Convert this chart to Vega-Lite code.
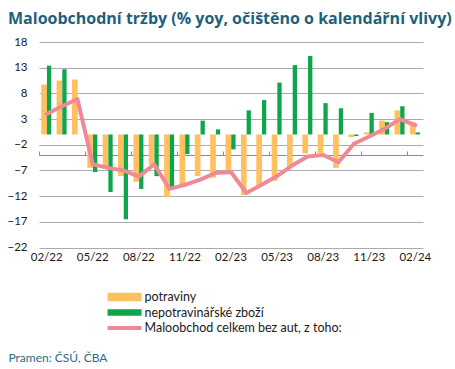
{
  "$schema": "https://vega.github.io/schema/vega-lite/v6.json",
  "width": 384,
  "height": 205.5,
  "autosize": {"type": "none"},
  "padding": {"left": 39, "top": 42, "right": 32, "bottom": 121.5},
  "background": "white",
  "title": {
    "text": "Maloobchodní tržby (% yoy, očištěno o kalendářní vlivy)",
    "anchor": "start",
    "frame": "group",
    "dx": -31,
    "offset": -4,
    "font": "Open Sans",
    "fontSize": 16,
    "fontWeight": "bold",
    "color": "#1F5F7B",
    "baseline": "alphabetic"
  },
  "config": {
    "view": {"stroke": null},
    "font": "Lato",
    "axis": {"labelFont": "Lato", "labelFontSize": 11.5, "labelColor": "#1a1a1a"}
  },
  "data": {
    "values": [
      {"m": "02/22", "s": "potraviny", "v": 9.7},
      {"m": "03/22", "s": "potraviny", "v": 10.5},
      {"m": "04/22", "s": "potraviny", "v": 10.7},
      {"m": "05/22", "s": "potraviny", "v": -6.5},
      {"m": "06/22", "s": "potraviny", "v": -6.7},
      {"m": "07/22", "s": "potraviny", "v": -8.1},
      {"m": "08/22", "s": "potraviny", "v": -9.2},
      {"m": "09/22", "s": "potraviny", "v": -5.9},
      {"m": "10/22", "s": "potraviny", "v": -12.2},
      {"m": "11/22", "s": "potraviny", "v": -9.8},
      {"m": "12/22", "s": "potraviny", "v": -8.1},
      {"m": "01/23", "s": "potraviny", "v": -8.4},
      {"m": "02/23", "s": "potraviny", "v": -7.0},
      {"m": "03/23", "s": "potraviny", "v": -11.8},
      {"m": "04/23", "s": "potraviny", "v": -10.0},
      {"m": "05/23", "s": "potraviny", "v": -9.0},
      {"m": "06/23", "s": "potraviny", "v": -6.3},
      {"m": "07/23", "s": "potraviny", "v": -3.7},
      {"m": "08/23", "s": "potraviny", "v": -3.6},
      {"m": "09/23", "s": "potraviny", "v": -6.5},
      {"m": "10/23", "s": "potraviny", "v": -0.5},
      {"m": "11/23", "s": "potraviny", "v": 0.4},
      {"m": "12/23", "s": "potraviny", "v": 2.7},
      {"m": "01/24", "s": "potraviny", "v": 4.7},
      {"m": "02/24", "s": "potraviny", "v": 2.4},
      {"m": "02/22", "s": "nepotravinářské zboží", "v": 13.4},
      {"m": "03/22", "s": "nepotravinářské zboží", "v": 12.7},
      {"m": "05/22", "s": "nepotravinářské zboží", "v": -7.3},
      {"m": "06/22", "s": "nepotravinářské zboží", "v": -11.2},
      {"m": "07/22", "s": "nepotravinářské zboží", "v": -16.5},
      {"m": "08/22", "s": "nepotravinářské zboží", "v": -10.6},
      {"m": "09/22", "s": "nepotravinářské zboží", "v": -8.1},
      {"m": "10/22", "s": "nepotravinářské zboží", "v": -10.7},
      {"m": "11/22", "s": "nepotravinářské zboží", "v": -3.8},
      {"m": "12/22", "s": "nepotravinářské zboží", "v": 2.7},
      {"m": "01/23", "s": "nepotravinářské zboží", "v": 1.0},
      {"m": "02/23", "s": "nepotravinářské zboží", "v": -2.9},
      {"m": "03/23", "s": "nepotravinářské zboží", "v": 4.7},
      {"m": "04/23", "s": "nepotravinářské zboží", "v": 6.7},
      {"m": "05/23", "s": "nepotravinářské zboží", "v": 10.1},
      {"m": "06/23", "s": "nepotravinářské zboží", "v": 13.5},
      {"m": "07/23", "s": "nepotravinářské zboží", "v": 15.3},
      {"m": "08/23", "s": "nepotravinářské zboží", "v": 6.1},
      {"m": "09/23", "s": "nepotravinářské zboží", "v": 5.1},
      {"m": "10/23", "s": "nepotravinářské zboží", "v": -0.3},
      {"m": "11/23", "s": "nepotravinářské zboží", "v": 4.2},
      {"m": "12/23", "s": "nepotravinářské zboží", "v": 2.4},
      {"m": "01/24", "s": "nepotravinářské zboží", "v": 5.5},
      {"m": "02/24", "s": "nepotravinářské zboží", "v": 0.4},
      {"m": "02/22", "s": "Maloobchod celkem bez aut, z toho:", "v": 4.0},
      {"m": "03/22", "s": "Maloobchod celkem bez aut, z toho:", "v": 5.5},
      {"m": "04/22", "s": "Maloobchod celkem bez aut, z toho:", "v": 6.9},
      {"m": "05/22", "s": "Maloobchod celkem bez aut, z toho:", "v": -5.8},
      {"m": "06/22", "s": "Maloobchod celkem bez aut, z toho:", "v": -6.5},
      {"m": "07/22", "s": "Maloobchod celkem bez aut, z toho:", "v": -7.0},
      {"m": "08/22", "s": "Maloobchod celkem bez aut, z toho:", "v": -8.2},
      {"m": "09/22", "s": "Maloobchod celkem bez aut, z toho:", "v": -5.8},
      {"m": "10/22", "s": "Maloobchod celkem bez aut, z toho:", "v": -10.6},
      {"m": "11/22", "s": "Maloobchod celkem bez aut, z toho:", "v": -9.8},
      {"m": "12/22", "s": "Maloobchod celkem bez aut, z toho:", "v": -8.8},
      {"m": "01/23", "s": "Maloobchod celkem bez aut, z toho:", "v": -7.5},
      {"m": "02/23", "s": "Maloobchod celkem bez aut, z toho:", "v": -7.3},
      {"m": "03/23", "s": "Maloobchod celkem bez aut, z toho:", "v": -11.4},
      {"m": "04/23", "s": "Maloobchod celkem bez aut, z toho:", "v": -9.8},
      {"m": "05/23", "s": "Maloobchod celkem bez aut, z toho:", "v": -8.1},
      {"m": "06/23", "s": "Maloobchod celkem bez aut, z toho:", "v": -6.0},
      {"m": "07/23", "s": "Maloobchod celkem bez aut, z toho:", "v": -4.3},
      {"m": "08/23", "s": "Maloobchod celkem bez aut, z toho:", "v": -4.0},
      {"m": "09/23", "s": "Maloobchod celkem bez aut, z toho:", "v": -5.4},
      {"m": "10/23", "s": "Maloobchod celkem bez aut, z toho:", "v": -1.8},
      {"m": "11/23", "s": "Maloobchod celkem bez aut, z toho:", "v": -0.4},
      {"m": "12/23", "s": "Maloobchod celkem bez aut, z toho:", "v": 1.1},
      {"m": "01/24", "s": "Maloobchod celkem bez aut, z toho:", "v": 3.0},
      {"m": "02/24", "s": "Maloobchod celkem bez aut, z toho:", "v": 1.8}
    ]
  },
  "resolve": {"axis": {"x": "independent"}},
  "layer": [
    {
      "transform": [{"filter": "datum.s === 'potraviny'"}],
      "mark": {"type": "bar", "width": 5.7, "xOffset": -2.6},
      "encoding": {
        "x": {
          "field": "m", "type": "ordinal", "sort": null,
          "scale": {"paddingInner": 0, "paddingOuter": 0},
          "axis": {
            "title": "Pramen: ČSÚ, ČBA",
            "titleX": -31, "titleY": 114, "titleAnchor": "start", "titleAlign": "left",
            "titleBaseline": "alphabetic",
            "titleFont": "Lato", "titleFontSize": 12, "titleFontWeight": "normal", "titleColor": "#2F6A86",
            "values": ["02/22", "05/22", "08/22", "11/22", "02/23", "05/23", "08/23", "11/23", "02/24"],
            "labelAngle": 0, "domain": false, "ticks": false, "labelPadding": 4
          }
        },
        "y": {
          "field": "v", "type": "quantitative",
          "scale": {"domain": [-22, 18], "nice": false, "zero": false},
          "axis": {
            "title": null,
            "values": [-22, -17, -12, -7, -2, 3, 8, 13, 18],
            "tickCount": 20, "labelOverlap": false,
            "domain": false, "ticks": false, "labelPadding": 12,
            "gridColor": "#ABABAB", "gridWidth": 1
          }
        },
        "color": {
          "field": "s", "type": "nominal",
          "scale": {
            "domain": ["potraviny", "nepotravinářské zboží", "Maloobchod celkem bez aut, z toho:"],
            "range": ["#FFC05F", "#0FA64B", "#EF8A94"]
          },
          "legend": {
            "orient": "none", "legendX": 85.5, "legendY": 246.5, "title": null,
            "symbolType": "M-3,-0.49H1V0.49H-3Z", "symbolSize": 289,
            "symbolStrokeWidth": 0, "symbolOpacity": 1,
            "labelFont": "Lato", "labelFontSize": 12.5, "labelColor": "#1a1a1a",
            "labelLimit": 400,
            "rowPadding": 0.5, "labelOffset": 3,
            "encode": {
              "symbols": {
                "update": {
                  "shape": {"signal": "datum.value === 'potraviny' ? 'M-3,-0.49H1V0.49H-3Z' : (datum.value === 'nepotravinářské zboží' ? 'M-3,-0.39H1V0.39H-3Z' : 'M-3,-0.235H1V0.235H-3Z')"}
                }
              }
            }
          }
        }
      }
    },
    {
      "transform": [{"filter": "datum.s === 'nepotravinářské zboží'"}],
      "mark": {"type": "bar", "width": 4.3, "xOffset": 2.4},
      "encoding": {
        "x": {"field": "m", "type": "ordinal", "sort": null, "axis": null},
        "y": {"field": "v", "type": "quantitative"},
        "color": {"field": "s", "type": "nominal"}
      }
    },
    {
      "transform": [{"filter": "datum.s === 'Maloobchod celkem bez aut, z toho:'"}],
      "mark": {"type": "line", "strokeWidth": 4, "strokeJoin": "round", "strokeCap": "round"},
      "encoding": {
        "x": {
          "field": "m", "type": "ordinal", "sort": null,
          "axis": {
            "title": null, "labels": false, "offset": -113,
            "values": ["02/22", "05/22", "08/22", "11/22", "02/23", "05/23", "08/23", "11/23", "02/24"],
            "bandPosition": 0, "domain": true, "domainColor": "#8C8C8C", "domainWidth": 1,
            "ticks": true, "tickColor": "#8C8C8C", "tickSize": 4, "grid": false
          }
        },
        "y": {"field": "v", "type": "quantitative"},
        "color": {"field": "s", "type": "nominal", "legend": null}
      }
    }
  ]
}
